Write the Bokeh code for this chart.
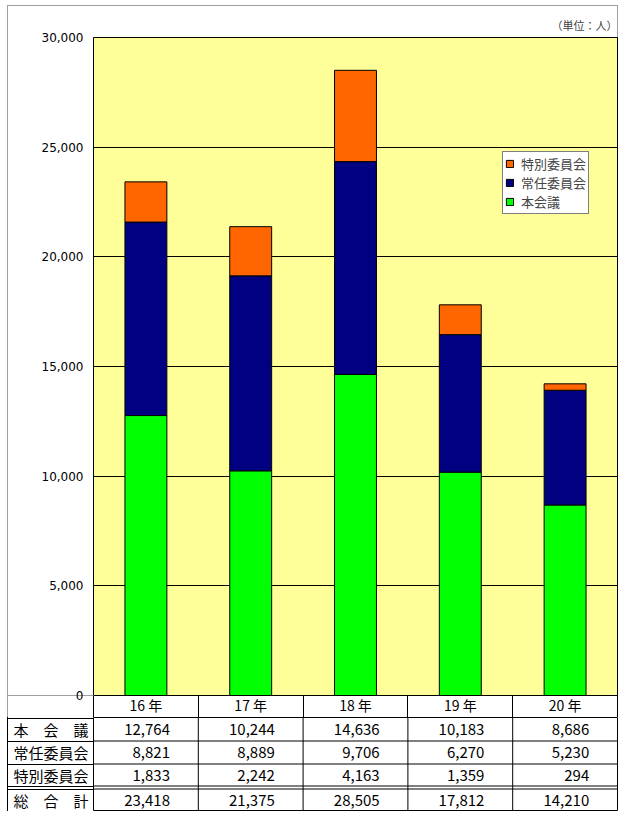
from bokeh.plotting import figure
from bokeh.models import (Range1d, FixedTicker, NumeralTickFormatter, CustomJSTickFormatter,
                          ColumnDataSource, Legend, LegendItem, Title)
from bokeh.layouts import column
from bokeh.embed import file_html
from bokeh.resources import INLINE
from bokeh.core.properties import value

# ---- data ----
years = ["16 年", "17 年", "18 年", "19 年", "20 年"]
series_names = ["本会議", "常任委員会", "特別委員会"]
row_labels = ["本　会　議", "常任委員会", "特別委員会", "総　合　計"]
honkaigi = [12764, 10244, 14636, 10183, 8686]
jonin = [8821, 8889, 9706, 6270, 5230]
tokubetsu = [1833, 2242, 4163, 1359, 294]
totals = [23418, 21375, 28505, 17812, 14210]
y_ticks = [0, 5000, 10000, 15000, 20000, 25000, 30000]
unit_label = "（単位：人）"

FONT = "Noto Sans CJK JP"
NUMFONT = "DejaVu Sans"
colors = ["#00FF00", "#000080", "#FF6600"]
n = len(years)
xc = [i + 0.5 for i in range(n)]
bounds = list(range(n + 1))

src = ColumnDataSource(dict(x=xc, hon=honkaigi, jonin=jonin, toku=tokubetsu))

W = 611
LEFT = 86
TOP = 32
FRAME_H = 658

p = figure(width=W, height=TOP + FRAME_H + 22, x_range=Range1d(0, n), y_range=Range1d(0, 30000),
           output_backend="svg", toolbar_location=None,
           min_border_left=LEFT, min_border_right=1, min_border_top=TOP, min_border_bottom=22,
           background_fill_color="#FFFF99", border_fill_color=None,
           outline_line_color="black",
           styles={"box-shadow": "inset 1px 1px 0 #a0a0a0, inset -1px 0 0 #a0a0a0"})

yt = FixedTicker(ticks=y_ticks, minor_ticks=[y_ticks[0]])
p.yaxis.ticker = yt
p.ygrid.ticker = yt
p.ygrid.grid_line_color = "black"
p.xgrid.visible = False
p.yaxis.formatter = NumeralTickFormatter(format="0,0")
p.yaxis.axis_line_color = None
p.yaxis.major_tick_line_color = None
p.yaxis.major_tick_in = 0
p.yaxis.major_tick_out = 0
p.yaxis.minor_tick_line_color = "#a0a0a0"
p.yaxis.minor_tick_in = 0
p.yaxis.minor_tick_out = 87
p.yaxis.major_label_standoff = -77
p.yaxis.major_label_text_font = NUMFONT
p.yaxis.major_label_text_font_size = "12px"
p.yaxis.major_label_text_color = "black"

xt = FixedTicker(ticks=xc, minor_ticks=bounds)
p.xaxis.ticker = xt
p.xaxis.formatter = CustomJSTickFormatter(args=dict(labels=years),
                                          code="return labels[Math.floor(tick)];")
p.xaxis.axis_line_color = "black"
p.xaxis.major_tick_line_color = None
p.xaxis.major_tick_in = 0
p.xaxis.major_tick_out = 0
p.xaxis.minor_tick_line_color = "black"
p.xaxis.minor_tick_in = 0
p.xaxis.minor_tick_out = 22
p.xaxis.major_label_standoff = -23
p.xaxis.major_label_text_font = FONT
p.xaxis.major_label_text_font_size = "14px"
p.xaxis.major_label_text_color = "black"

rs = p.vbar_stack(["hon", "jonin", "toku"], x="x", width=0.4, fill_color=colors,
                  line_color="black", line_width=1, source=src)

legend = Legend(items=[LegendItem(label=series_names[i], renderers=[rs[i]]) for i in reversed(range(3))],
                location=(409, 481), border_line_color="black", border_line_width=1,
                background_fill_color="white", background_fill_alpha=1.0,
                padding=2, spacing=0, margin=0, label_text_font=FONT,
                label_text_font_size="13px",
                glyph_width=9, glyph_height=9,
                label_height=17, label_standoff=7)
p.add_layout(legend)

p.add_layout(Title(text=unit_label, align="right", vertical_align="top", text_font=FONT,
                   text_font_size="11px", text_font_style="normal", offset=0, standoff=6),
             "above")

# ---- table ----
TH = 94
t = figure(width=W, height=TH, x_range=Range1d(0, n), y_range=Range1d(TH, 0),
           x_axis_location=None, output_backend="svg", toolbar_location=None,
           min_border_left=LEFT, min_border_right=1, min_border_top=0, min_border_bottom=0,
           outline_line_color="black", border_fill_color=None,
           styles={"box-shadow": "inset 1px 0 0 black"})
t.xgrid.visible = False
t.ygrid.visible = False

row_y = [12, 35, 57.5, 82.5]
row_lines = [0.5, 23.5, 46.5, 68.5, 71.5, 93.5]

tyt = FixedTicker(ticks=row_y, minor_ticks=row_lines)
t.yaxis.ticker = tyt
t.yaxis.formatter = CustomJSTickFormatter(args=dict(labels=row_labels, centers=row_y),
                                          code="const i = centers.indexOf(tick); return i >= 0 ? labels[i] : '';")
t.yaxis.axis_line_color = None
t.yaxis.major_tick_line_color = None
t.yaxis.major_tick_in = 0
t.yaxis.major_tick_out = 0
t.yaxis.minor_tick_line_color = "black"
t.yaxis.minor_tick_in = 0
t.yaxis.minor_tick_out = 87
t.yaxis.major_label_standoff = -82
t.yaxis.major_label_text_font = FONT
t.yaxis.major_label_text_font_size = "15px"
t.yaxis.major_label_text_color = "black"

inner_h = row_lines[1:-1]
t.segment(x0=[0] * len(inner_h), x1=[n] * len(inner_h), y0=inner_h, y1=inner_h,
          line_color="black", line_width=1)
inner_v = bounds[1:-1]
t.segment(x0=inner_v, x1=inner_v, y0=[0] * len(inner_v), y1=[TH] * len(inner_v),
          line_color="black", line_width=1)

tx, ty, tt = [], [], []
for r, vals in enumerate([honkaigi, jonin, tokubetsu, totals]):
    for i, v in enumerate(vals):
        tx.append(i + 1 - 0.27)
        ty.append(row_y[r])
        tt.append(f"{v:,}")

tsrc = ColumnDataSource(dict(x=tx, y=ty, text=tt))
t.text(x="x", y="y", text="text", text_align="right", text_baseline="middle",
       text_font=value(FONT), text_font_size="15px", text_color="black", source=tsrc)

layout = column(p, t, spacing=0, margin=(5, 0, 0, 7))
open("out.html", "w").write(file_html(layout, INLINE))
